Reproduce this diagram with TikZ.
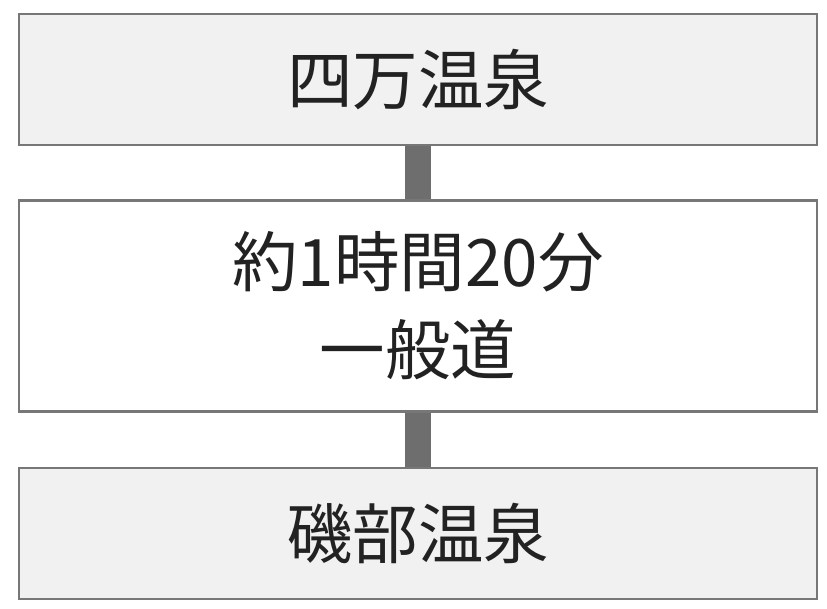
\documentclass[tikz,border=0pt]{standalone}
\usepackage{fontspec}
\setmainfont{Noto Sans CJK JP}
\definecolor{boxfill}{HTML}{F1F1F1}
\definecolor{boxline}{HTML}{777777}
\definecolor{linkcol}{HTML}{6E6E6E}
\definecolor{txt}{HTML}{222222}
\begin{document}
\begin{tikzpicture}[x=1pt,y=-1pt,
  boxstyle/.style={draw=boxline, line width=2.5pt, minimum width=798pt, inner sep=0pt, text=txt, font=\fontsize{65.5}{88}\selectfont, align=center},
  link/.style={draw=linkcol, line width=26pt}]
\useasboundingbox (0,0) rectangle (827,609);
\node[boxstyle, fill=boxfill, minimum height=131pt] (a) at (418,79.5) {四万温泉};
\node[boxstyle, fill=white, minimum height=211pt] (b) at (418,306) {約1時間20分\\一般道};
\node[boxstyle, fill=boxfill, minimum height=131pt] (c) at (418,533.5) {磯部温泉};
\draw[link] (a.south) -- (b.north);
\draw[link] (b.south) -- (c.north);
\end{tikzpicture}
\end{document}
